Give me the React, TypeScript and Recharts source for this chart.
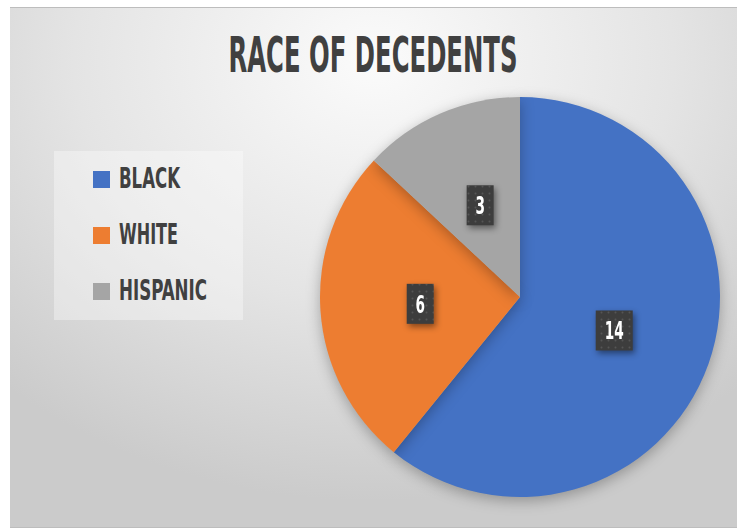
import React from 'react';
import { Legend, Pie, PieChart, Cell } from 'recharts';

const races = ['BLACK', 'WHITE', 'HISPANIC'];
const counts = [14, 6, 3];
const COLORS = ['#4472C4', '#ED7D31', '#A5A5A5'];

const data = races.map((name, i) => ({ name, value: counts[i] }));

const FONT = "'DejaVu Sans Condensed', 'Liberation Sans Narrow', sans-serif";
const RADIAN = Math.PI / 180;

const renderLabel = (props: any) => {
    const { cx, cy, midAngle, outerRadius, value } = props;
    const r = outerRadius * 0.5;
    const x = cx + r * Math.cos(-midAngle * RADIAN);
    const y = cy + r * Math.sin(-midAngle * RADIAN);
    const txt = String(value);
    const w = txt.length > 1 ? 37 : 27;
    const h = 40;
    return (
        <g className="pie-label">
            <rect x={x - w / 2} y={y - h / 2} width={w} height={h} fill="#3d3d3d" />
            <rect x={x - w / 2} y={y - h / 2} width={w} height={h} fill="url(#dots)" />
            <text
                x={x}
                y={y + 9}
                textAnchor="middle"
                fill="#ffffff"
                fontFamily={FONT}
                fontWeight="bold"
                fontSize={25}
                textLength={txt.length * 9.5}
                lengthAdjust="spacingAndGlyphs"
            >
                {txt}
            </text>
        </g>
    );
};

// legend drawn as a small svg so the text can be squeezed like the condensed original
const legendWidths = [61, 59, 88];

const LegendBox = () => (
    <svg width={260} height={169} style={{ display: 'block', overflow: 'visible' }}>
        <rect x={0} y={0} width={189} height={169} fill="#ffffff" fillOpacity={0.35} />
        {data.map((d, i) => (
            <g key={d.name}>
                <rect x={39} y={20 + i * 56} width={17} height={17} fill={COLORS[i]} />
                <text
                    x={65}
                    y={37 + i * 56}
                    fill="#404040"
                    fontFamily={FONT}
                    fontWeight="bold"
                    fontSize={29}
                    textLength={legendWidths[i]}
                    lengthAdjust="spacingAndGlyphs"
                >
                    {d.name}
                </text>
            </g>
        ))}
    </svg>
);

export default function App() {
    return (
        <div style={{ position: 'absolute', left: 0, top: 0, width: 745, height: 531, background: '#ffffff' }}>
            <style>{`
                .recharts-pie-sector { filter: drop-shadow(0px 4px 7px rgba(0,0,0,0.28)); }
                .pie-label { filter: drop-shadow(2px 3px 3px rgba(0,0,0,0.45)); }
            `}</style>
            <div
                style={{
                    position: 'absolute',
                    left: 10,
                    top: 7,
                    width: 727,
                    height: 521,
                    boxSizing: 'border-box',
                    borderTop: '1px solid #bdbdbd',
                    borderBottom: '1px solid #bdbdbd',
                    background: 'radial-gradient(ellipse 75% 85% at 50% 10%, #fbfbfb 0%, #e4e4e4 55%, #cbcbcb 100%)',
                }}
            >
                <svg width={727} height={90} style={{ position: 'absolute', left: 0, top: 0, overflow: 'visible' }}>
                    <text
                        x={363}
                        y={64}
                        textAnchor="middle"
                        fill="#404040"
                        fontFamily={FONT}
                        fontWeight="bold"
                        fontSize={50}
                        textLength={289}
                        lengthAdjust="spacingAndGlyphs"
                    >
                        RACE OF DECEDENTS
                    </text>
                </svg>
                <PieChart
                    width={727}
                    height={519}
                    margin={{ top: 0, right: 0, bottom: 0, left: 0 }}
                    style={{ position: 'absolute', left: 0, top: 0 }}
                >
                    <defs>
                        <pattern id="dots" width={7} height={7} patternUnits="userSpaceOnUse">
                            <circle cx={3.5} cy={3.5} r={1} fill="#ffffff" fillOpacity={0.12} />
                        </pattern>
                    </defs>
                    <Pie
                        data={data}
                        dataKey="value"
                        nameKey="name"
                        cx={510}
                        cy={289}
                        outerRadius={200}
                        startAngle={90}
                        endAngle={-270}
                        stroke="none"
                        labelLine={false}
                        label={renderLabel}
                        isAnimationActive={false}
                    >
                        {data.map((entry, index) => (
                            <Cell key={`cell-${index}`} fill={COLORS[index % COLORS.length]} />
                        ))}
                    </Pie>
                    <Legend
                        content={() => <LegendBox />}
                        wrapperStyle={{ position: 'absolute', left: 44, top: 143, width: 260, height: 169 }}
                    />
                </PieChart>
            </div>
        </div>
    );
}
